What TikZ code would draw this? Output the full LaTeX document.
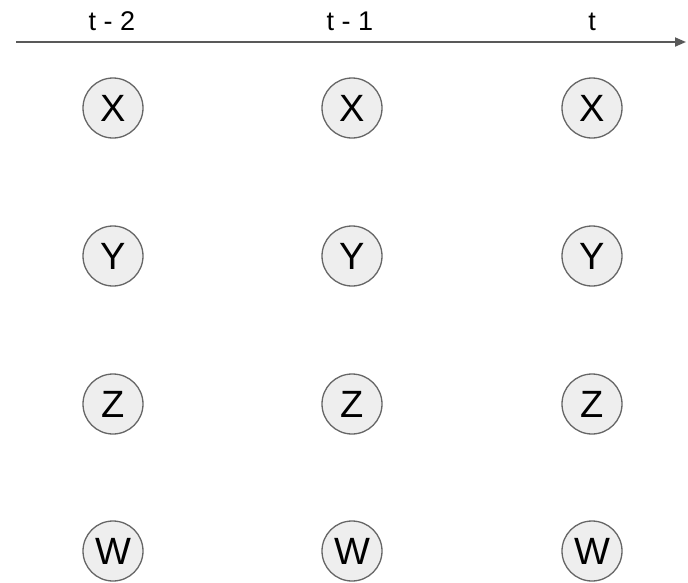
\documentclass[tikz,border=0pt]{standalone}
\usepackage{fontspec}
\setmainfont{Liberation Sans}
\usetikzlibrary{arrows.meta}
\definecolor{nodefill}{HTML}{EEEEEE}
\definecolor{nodeedge}{HTML}{666666}
\definecolor{axis}{HTML}{595959}
\begin{document}
\begin{tikzpicture}[x=1pt,y=-1pt,
  var/.style={circle,draw=nodeedge,fill=nodefill,line width=1.3pt,minimum size=60pt,inner sep=0pt,font=\fontsize{38}{40}\selectfont},
  tlabel/.style={anchor=base,font=\fontsize{27}{30}\selectfont,inner sep=0pt},
  axisline/.style={draw=axis,line width=1.8pt,-{Triangle[length=11pt,width=9pt]}}]
\useasboundingbox (0,0) rectangle (688,582);
\coordinate (a0) at (16,42);
\coordinate (a1) at (686,42);
\draw[axisline] (a0) -- (a1);
\node[tlabel] (l1) at (112,30) {t - 2};
\node[tlabel] (l2) at (350,30) {t - 1};
\node[tlabel] (l3) at (592,30) {t};
\foreach \c/\xx in {1/113,2/352,3/592}{
  \node[var] (x\c) at (\xx,108) {X};
  \node[var] (y\c) at (\xx,256) {Y};
  \node[var] (z\c) at (\xx,404) {Z};
  \node[var] (w\c) at (\xx,551) {W};
}
\end{tikzpicture}
\end{document}
